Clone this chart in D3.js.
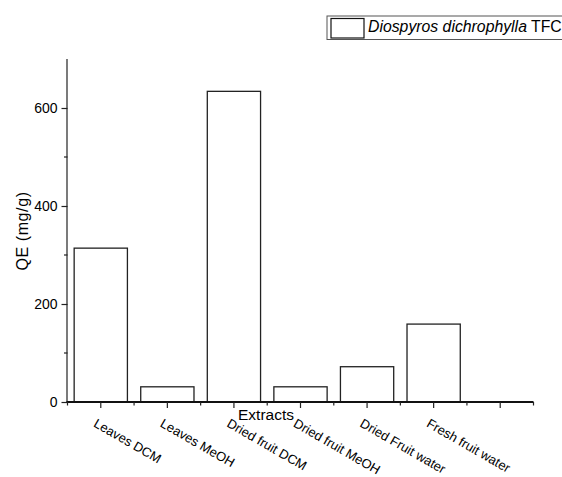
<!DOCTYPE html>
<html>
<head>
<meta charset="utf-8">
<script src="https://cdn.jsdelivr.net/npm/d3@7"></script>
<style>
  body { margin: 0; background: #fff; }
  text { font-family: "Liberation Sans", Arial, sans-serif; fill: #000; }
</style>
</head>
<body>
<svg id="chart" width="562" height="477"></svg>
<script>
const categories = ["Leaves DCM", "Leaves MeOH", "Dried fruit DCM", "Dried fruit MeOH", "Dried Fruit water", "Fresh fruit water"];
const values = [314, 31, 634, 31, 72, 159];
const yMajorTicks = [0, 200, 400, 600];
const yMinorTicks = [100, 300, 500];
const seriesName = "Diospyros dichrophylla";
const seriesSuffix = " TFC";

const svg = d3.select("#chart");
const x0 = 67.5, x1 = 533.5, yTop = 59, yBottom = 402;

const slots = categories.concat([""]);
const x = d3.scaleBand().domain(slots).range([x0, x1]).paddingInner(0.2).paddingOuter(0.1);
const y = d3.scaleLinear().domain([0, 700]).range([yBottom, yTop]);

// bars
svg.append("g").selectAll("rect").data(values).join("rect")
  .attr("x", (d, i) => x(categories[i]))
  .attr("width", x.bandwidth())
  .attr("y", d => y(d))
  .attr("height", d => y(0) - y(d))
  .attr("fill", "#fff")
  .attr("stroke", "#222")
  .attr("stroke-width", 1.3);

// y axis
const yAxis = svg.append("g").attr("transform", `translate(${x0},0)`);
yAxis.call(d3.axisLeft(y).tickValues(yMajorTicks).tickSize(6).tickPadding(4).tickFormat(d3.format("d")));
yAxis.select(".domain").attr("d", `M-0.5,${yBottom}V${yTop}`).attr("stroke", "#222").attr("stroke-width", 1.2);
yAxis.selectAll(".tick line").attr("stroke", "#222").attr("stroke-width", 1.2);
yAxis.selectAll(".tick text").attr("font-size", 14).attr("font-family", "Liberation Sans, Arial, sans-serif");
yAxis.selectAll(".minor").data(yMinorTicks).join("line").attr("class", "minor")
  .attr("x1", -3.5).attr("x2", 0).attr("y1", d => y(d)).attr("y2", d => y(d))
  .attr("stroke", "#222").attr("stroke-width", 1.2);

// x axis
const xAxis = svg.append("g").attr("transform", `translate(0,${yBottom})`);
xAxis.append("line").attr("x1", x0 - 1).attr("x2", x1).attr("y1", 0).attr("y2", 0)
  .attr("stroke", "#111").attr("stroke-width", 2);
xAxis.selectAll(".major").data(slots).join("line").attr("class", "major")
  .attr("x1", d => x(d) + x.bandwidth() / 2).attr("x2", d => x(d) + x.bandwidth() / 2)
  .attr("y1", 0).attr("y2", 6).attr("stroke", "#222").attr("stroke-width", 1.2);
xAxis.selectAll(".minorx").data(d3.range(slots.length + 1)).join("line").attr("class", "minorx")
  .attr("x1", i => x0 + i * x.step()).attr("x2", i => x0 + i * x.step())
  .attr("y1", 0).attr("y2", 3.5).attr("stroke", "#222").attr("stroke-width", 1.2);
xAxis.selectAll(".lbl").data(categories).join("text").attr("class", "lbl")
  .attr("transform", d => `translate(${x(d) + x.bandwidth() / 2 - 8},${24}) rotate(30)`)
  .attr("font-size", 13)
  .text(d => d);

// axis titles
svg.append("text").attr("x", 266).attr("y", 420).attr("text-anchor", "middle")
  .attr("font-size", 15.5).text("Extracts");
svg.append("text").attr("transform", "translate(28,231) rotate(-90)").attr("text-anchor", "middle")
  .attr("font-size", 16).attr("letter-spacing", 0.6).text("QE (mg/g)");

// legend
const lg = svg.append("g");
lg.append("rect").attr("x", 327).attr("y", 16).attr("width", 240).attr("height", 23.5)
  .attr("fill", "#fff").attr("stroke", "#555").attr("stroke-width", 1);
lg.append("rect").attr("x", 331).attr("y", 18.5).attr("width", 33).attr("height", 19.5)
  .attr("fill", "#fff").attr("stroke", "#111").attr("stroke-width", 1.2);
const lt = lg.append("text").attr("x", 368).attr("y", 32).attr("font-size", 15.8);
lt.append("tspan").attr("font-style", "italic").text(seriesName);
lt.append("tspan").text(seriesSuffix);
</script>
</body>
</html>
